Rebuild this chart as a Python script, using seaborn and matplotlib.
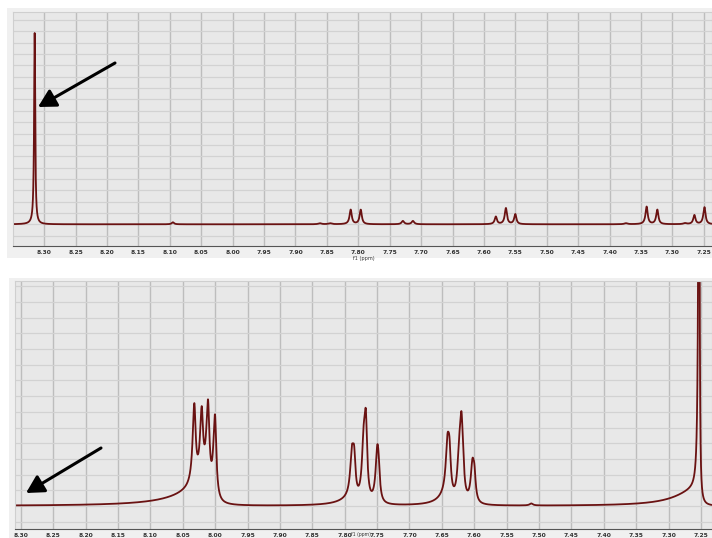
import numpy as np
import pandas as pd
import matplotlib
matplotlib.use("Agg")
import matplotlib.pyplot as plt
from matplotlib.ticker import MultipleLocator, FormatStrFormatter
from matplotlib.patches import Rectangle
from matplotlib.text import Annotation
import seaborn as sns

# ---- upper spectrum: peak list (chemical shift, height, half-widths on the high / low ppm side)
top_shift  = [8.315, 8.095, 7.861, 7.845, 7.812, 7.796, 7.729, 7.713,
              7.581, 7.565, 7.550, 7.374, 7.341, 7.324, 7.280, 7.265, 7.249]
top_height = [191.3, 2.0, 1.0, 1.0, 14.5, 14.5, 3.3, 3.3,
              7.5, 16.0, 10.0, 1.0, 17.5, 14.5, 1.0, 9.0, 17.0]
top_w_hi   = [0.0011, 0.0022, 0.0030, 0.0030, 0.0022, 0.0022, 0.0024, 0.0024,
              0.0022, 0.0022, 0.0022, 0.0030, 0.0022, 0.0022, 0.0030, 0.0022, 0.0022]
top_w_lo   = [0.0010, 0.0022, 0.0030, 0.0030, 0.0020, 0.0020, 0.0024, 0.0024,
              0.0020, 0.0020, 0.0020, 0.0030, 0.0020, 0.0020, 0.0030, 0.0020, 0.0020]

# ---- lower spectrum: peak list
bot_shift  = [8.0322, 8.0208, 8.0111, 8.0003, 8.0113,
              7.789, 7.7855, 7.771, 7.7675, 7.750, 7.748, 7.787,
              7.6415, 7.6384, 7.6235, 7.620, 7.6177, 7.603, 7.600, 7.640,
              7.512, 7.253, 7.256]
bot_height = [77.6, 66.4, 73.0, 83.0, 22.0,
              33.9, 39.1, 39.5, 80.3, 34.0, 32.3, 6.0,
              37.3, 41.9, 30.0, 65.0, 25.0, 28.9, 28.7, 10.0,
              2.0, 600.0, 16.0]
bot_w_hi   = [0.0031, 0.0031, 0.0031, 0.0031, 0.046,
              0.0031, 0.0031, 0.0031, 0.0031, 0.0031, 0.0031, 0.023,
              0.0031, 0.0031, 0.0031, 0.0031, 0.0031, 0.0031, 0.0031, 0.0154,
              0.0030, 0.0012, 0.039]
bot_w_lo   = [0.0025, 0.0025, 0.0025, 0.0025, 0.0046,
              0.0025, 0.0025, 0.0025, 0.0025, 0.0025, 0.0025, 0.0046,
              0.0025, 0.0025, 0.0025, 0.0025, 0.0025, 0.0025, 0.0025, 0.0046,
              0.0030, 0.0008, 0.0015]

tick_fmt = "%.2f"
axis_title = "f1 (ppm)"


def spectrum(axis, shifts, heights, w_hi, w_lo):
    """Sum of Lorentzian lines, each with its own half-width on either side."""
    y = np.zeros_like(axis)
    for c, h, a, b in zip(shifts, heights, w_hi, w_lo):
        d = axis - c
        w = np.where(d > 0, a, b)
        y += h / (1.0 + (d / w) ** 2)
    return y


ppm_axis = np.linspace(8.37, 7.22, 16000)
top_df = pd.DataFrame({"ppm": ppm_axis,
                       "intensity": spectrum(ppm_axis, top_shift, top_height, top_w_hi, top_w_lo)})
bot_df = pd.DataFrame({"ppm": ppm_axis,
                       "intensity": spectrum(ppm_axis, bot_shift, bot_height, bot_w_hi, bot_w_lo)})

sns.set_style("white")
W, H = 712, 538
fig = plt.figure(figsize=(W / 100, H / 100), dpi=100)
fig.patch.set_facecolor("white")

# panel frames
fig.add_artist(Rectangle((7 / W, (H - 258) / H), 705 / W, 250 / H,
                         transform=fig.transFigure, facecolor="#f0f0f0",
                         edgecolor="none", zorder=0))
fig.add_artist(Rectangle((9 / W, 0), 703 / W, 260 / H,
                         transform=fig.transFigure, facecolor="#f0f0f0",
                         edgecolor="none", zorder=0))

ax_top = fig.add_axes([13 / W, (H - 246) / H, 699 / W, 234 / H])
ax_bot = fig.add_axes([15 / W, (H - 529) / H, 697 / W, 248 / H])

line_color = "#6a1212"
panels = [(ax_top, top_df, (8.3495, 7.237), (-21.7, 212.3), 11.35),
          (ax_bot, bot_df, (8.309, 7.233), (-23.0, 225.0), 15.7)]

for ax, df, xlim, ylim, ystep in panels:
    ax.set_facecolor("#e8e8e8")
    sns.lineplot(data=df, x="ppm", y="intensity", ax=ax, color=line_color,
                 linewidth=1.3, estimator=None, sort=False)
    ax.set_xlim(*xlim)
    ax.set_ylim(*ylim)
    ax.xaxis.set_major_locator(MultipleLocator(0.05))
    ax.xaxis.set_minor_locator(MultipleLocator(0.025))
    ax.xaxis.set_major_formatter(FormatStrFormatter(tick_fmt))
    ax.yaxis.set_major_locator(MultipleLocator(ystep))
    ax.grid(axis="x", which="major", color="#bdbdbd", linewidth=1.0)
    ax.grid(axis="y", which="major", color="#d2d2d2", linewidth=0.9)
    ax.set_axisbelow(True)
    ax.tick_params(axis="y", left=False, labelleft=False)
    ax.tick_params(axis="x", which="both", direction="out", length=1.8,
                   width=0.8, color="#444444", labelsize=4.3,
                   labelcolor="#333333", pad=1.0)
    for lbl in ax.get_xticklabels():
        lbl.set_fontweight("bold")
    ax.set_ylabel("")
    ax.set_xlabel("")
    for side in ("top", "right", "left"):
        ax.spines[side].set_color("#cfcfcf")
        ax.spines[side].set_linewidth(0.8)
    ax.spines["bottom"].set_color("#555555")
    ax.spines["bottom"].set_linewidth(0.8)

# axis titles, tucked just under the 7.80 / 7.75 tick labels
fig.text(353 / W, (H - 256) / H, axis_title, fontsize=3.6, color="#333333",
         ha="left", va="top")
fig.text(361 / W, 1 / H, axis_title, fontsize=3.3, color="#333333",
         ha="center", va="bottom")

arrow_props = dict(arrowstyle="-|>,head_length=0.53,head_width=0.29",
                   color="black", lw=2.2, mutation_scale=20, shrinkA=0, shrinkB=0)
fig.add_artist(Annotation(
    "", xy=(38 / W, (H - 107) / H), xytext=(115 / W, (H - 63) / H),
    xycoords="figure fraction", textcoords="figure fraction", arrowprops=arrow_props))
fig.add_artist(Annotation(
    "", xy=(26 / W, (H - 493) / H), xytext=(101 / W, (H - 448) / H),
    xycoords="figure fraction", textcoords="figure fraction", arrowprops=arrow_props))

fig.savefig("out.png", dpi=100, facecolor="white")
